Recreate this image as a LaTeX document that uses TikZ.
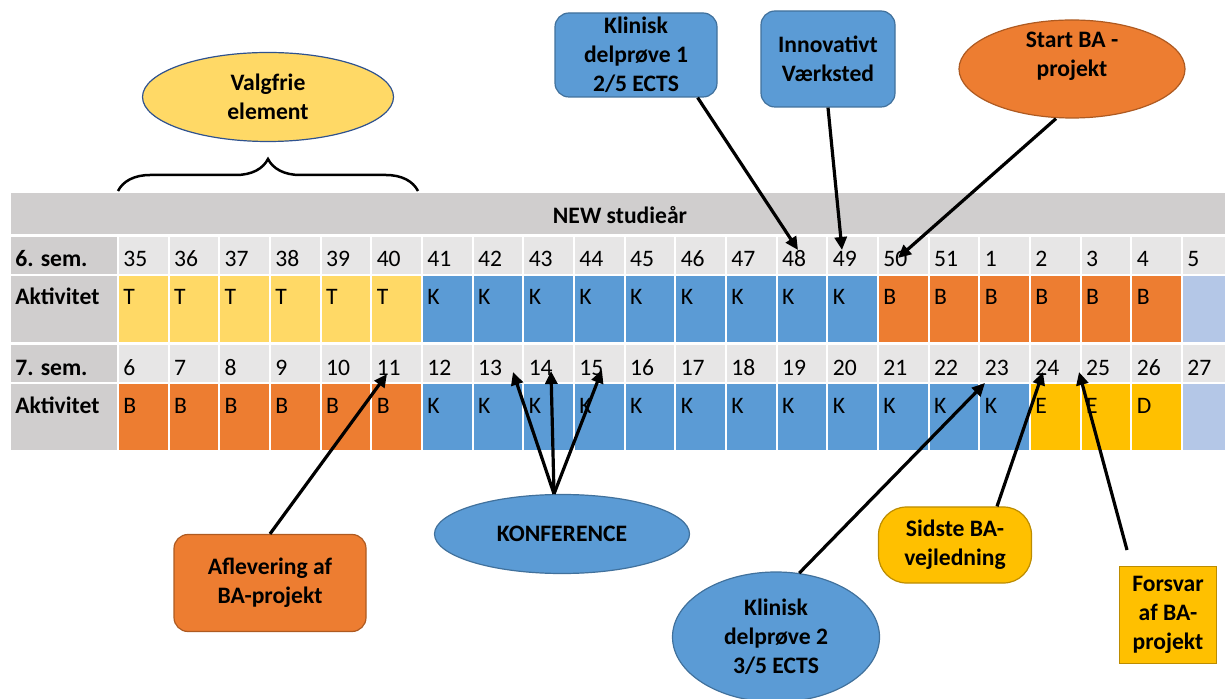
\documentclass[tikz,border=0pt]{standalone}
\usepackage{fontspec}
\setmainfont{Carlito}
\usepackage{tikz}
\usetikzlibrary{shapes.geometric, arrows.meta, positioning, decorations.pathreplacing}
\definecolor{hdrgrey}{HTML}{D0CECE}
\definecolor{cellgrey}{HTML}{E7E6E6}
\definecolor{tyellow}{HTML}{FFD966}
\definecolor{kblue}{HTML}{5B9BD5}
\definecolor{kblueline}{HTML}{41719C}
\definecolor{borange}{HTML}{ED7D31}
\definecolor{borangeline}{HTML}{AE5A21}
\definecolor{egold}{HTML}{FFC000}
\definecolor{egoldline}{HTML}{BC8C00}
\definecolor{emptyblue}{HTML}{B4C7E7}
\definecolor{ovalline}{HTML}{2F528F}
\newcommand{\wkfont}{\fontsize{11.8}{14.5}\selectfont}
\tikzstyle{cell} = [rectangle, anchor=north west, draw=white, line width=1pt, inner sep=0pt, minimum width=25.335pt]
\tikzstyle{txt} = [anchor=base west, inner sep=0pt, font=\wkfont]
\tikzstyle{boldtxt} = [anchor=base west, inner sep=0pt, font=\bfseries\wkfont]
\tikzstyle{box} = [rectangle, rounded corners=7pt, align=center, inner sep=0pt, line width=0.6pt, font=\bfseries\wkfont]
\tikzstyle{oval} = [ellipse, align=center, inner sep=0pt, line width=0.6pt, font=\bfseries\wkfont]
\tikzstyle{arrow} = [line width=1.6pt, -{Triangle[length=6.5pt,width=6pt]}]

\begin{document}
\begin{tikzpicture}[x=0.5pt, y=-0.5pt]
\clip (0,0) rectangle (1225,699);
\useasboundingbox (0,0) rectangle (1225,699);
% Table header
\node[cell, fill=hdrgrey, minimum width=612pt, minimum height=21.5pt] (header) at (9,191) {};
\node[font=\bfseries\wkfont, anchor=base] (title) at (620,224) {NEW studieår};
% Row labels
\node[cell, fill=hdrgrey, minimum width=54pt, minimum height=19.5pt] (lab1) at (9,235) {};
\node[cell, fill=hdrgrey, minimum width=54pt, minimum height=34pt] (lab2) at (9,274) {};
\node[cell, fill=hdrgrey, minimum width=54pt, minimum height=19.5pt] (lab3) at (9,343) {};
\node[cell, fill=hdrgrey, minimum width=54pt, minimum height=34pt] (lab4) at (9,382) {};
\node[boldtxt] (sem6) at (15,267) {6. sem.};
\node[boldtxt] (akt6) at (15,305) {Aktivitet};
\node[boldtxt] (sem7) at (15,376) {7. sem.};
\node[boldtxt] (akt7) at (15,414) {Aktivitet};
% 6. semester
\foreach \w/\c/\a [count=\i from 0] in {35/tyellow/T,36/tyellow/T,37/tyellow/T,38/tyellow/T,39/tyellow/T,40/tyellow/T,41/kblue/K,42/kblue/K,43/kblue/K,44/kblue/K,45/kblue/K,46/kblue/K,47/kblue/K,48/kblue/K,49/kblue/K,50/borange/B,51/borange/B,1/borange/B,2/borange/B,3/borange/B,4/borange/B,5/emptyblue/{}} {
  \node[cell, fill=cellgrey, minimum height=19.5pt] (wk6-\i) at ({117+50.67*\i},235) {};
  \node[txt] (nr6-\i) at ({123+50.67*\i},267) {\w};
  \node[cell, fill=\c, minimum height=34pt] (ak6-\i) at ({117+50.67*\i},274) {};
  \node[txt] (lt6-\i) at ({123+50.67*\i},305) {\a};
}
% 7. semester
\foreach \w/\c/\a [count=\i from 0] in {6/borange/B,7/borange/B,8/borange/B,9/borange/B,10/borange/B,11/borange/B,12/kblue/K,13/kblue/K,14/kblue/K,15/kblue/K,16/kblue/K,17/kblue/K,18/kblue/K,19/kblue/K,20/kblue/K,21/kblue/K,22/kblue/K,23/kblue/K,24/egold/E,25/egold/E,26/egold/D,27/emptyblue/{}} {
  \node[cell, fill=cellgrey, minimum height=19.5pt] (wk7-\i) at ({117+50.67*\i},343) {};
  \node[txt] (nr7-\i) at ({123+50.67*\i},376) {\w};
  \node[cell, fill=\c, minimum height=34pt] (ak7-\i) at ({117+50.67*\i},382) {};
  \node[txt] (lt7-\i) at ({123+50.67*\i},414) {\a};
}
% Callouts
\node[oval, fill=tyellow, draw=ovalline, minimum width=125.5pt, minimum height=44.5pt] (valg) at (268,97) {Valgfrie\\element};
\draw[decorate, decoration={brace, amplitude=16pt}, line width=1.25pt] (118,191) -- (418,191);
\node[box, fill=kblue, draw=kblueline, minimum width=81pt, minimum height=42pt] (klin1) at (636,55) {Klinisk\\delprøve 1\\2/5 ECTS};
\node[box, fill=kblue, draw=kblueline, minimum width=67pt, minimum height=48pt] (innov) at (828,59) {Innovativt\\Værksted};
\node[oval, fill=borange, draw=borangeline, minimum width=113pt, minimum height=49pt] (startba) at (1072,69) {};
\node[font=\bfseries\wkfont, align=center] (startbatxt) at (1072,56) {Start BA -\\projekt};
\node[box, fill=borange, draw=borangeline, minimum width=96pt, minimum height=48.5pt] (aflev) at (270,583) {Aflevering af\\BA-projekt};
\node[oval, fill=kblue, draw=kblueline, minimum width=127.5pt, minimum height=39.5pt] (konf) at (562,534) {KONFERENCE};
\node[oval, fill=kblue, draw=kblueline, minimum width=103.5pt, minimum height=65pt] (klin2) at (776,637) {Klinisk\\delprøve 2\\3/5 ECTS};
\node[box, rounded corners=14pt, fill=egold, draw=egoldline, minimum width=76.5pt, minimum height=38pt] (sidste) at (955,545) {Sidste BA-\\vejledning};
\node[rectangle, align=center, inner sep=0pt, line width=0.6pt, font=\bfseries\wkfont, fill=egold, draw=egoldline, minimum width=48.5pt, minimum height=48.5pt] (forsvar) at (1168,615) {Forsvar\\af BA-\\projekt};
% Arrow targets
\coordinate (t48) at (798,250);
\coordinate (t49) at (842,250);
\coordinate (t50) at (898,258);
\coordinate (t11) at (387,374);
\coordinate (t13) at (513,372);
\coordinate (t14) at (551,371);
\coordinate (t15) at (602,370);
\coordinate (t23) at (985,383);
\coordinate (t24) at (1043,372);
\coordinate (t25) at (1079,372);
\coordinate (fv) at (1127,550);
% Connect callouts with arrows
\draw [arrow] ([xshift=-10pt]klin1.south east) -- (t48);
\draw [arrow] (innov.south) -- (t49);
\draw [arrow] ([xshift=-8pt]startba.south) -- (t50);
\draw [arrow] (aflev.north) -- (t11);
\draw [arrow] ([xshift=-4pt]konf.north) -- (t13);
\draw [arrow] ([xshift=-4pt]konf.north) -- (t14);
\draw [arrow] ([xshift=-4pt]konf.north) -- (t15);
\draw [arrow] (klin2.70) -- (t23);
\draw [arrow] ([xshift=21pt]sidste.north) -- (t24);
\draw [arrow] (fv) -- (t25);
\end{tikzpicture}
\end{document}
